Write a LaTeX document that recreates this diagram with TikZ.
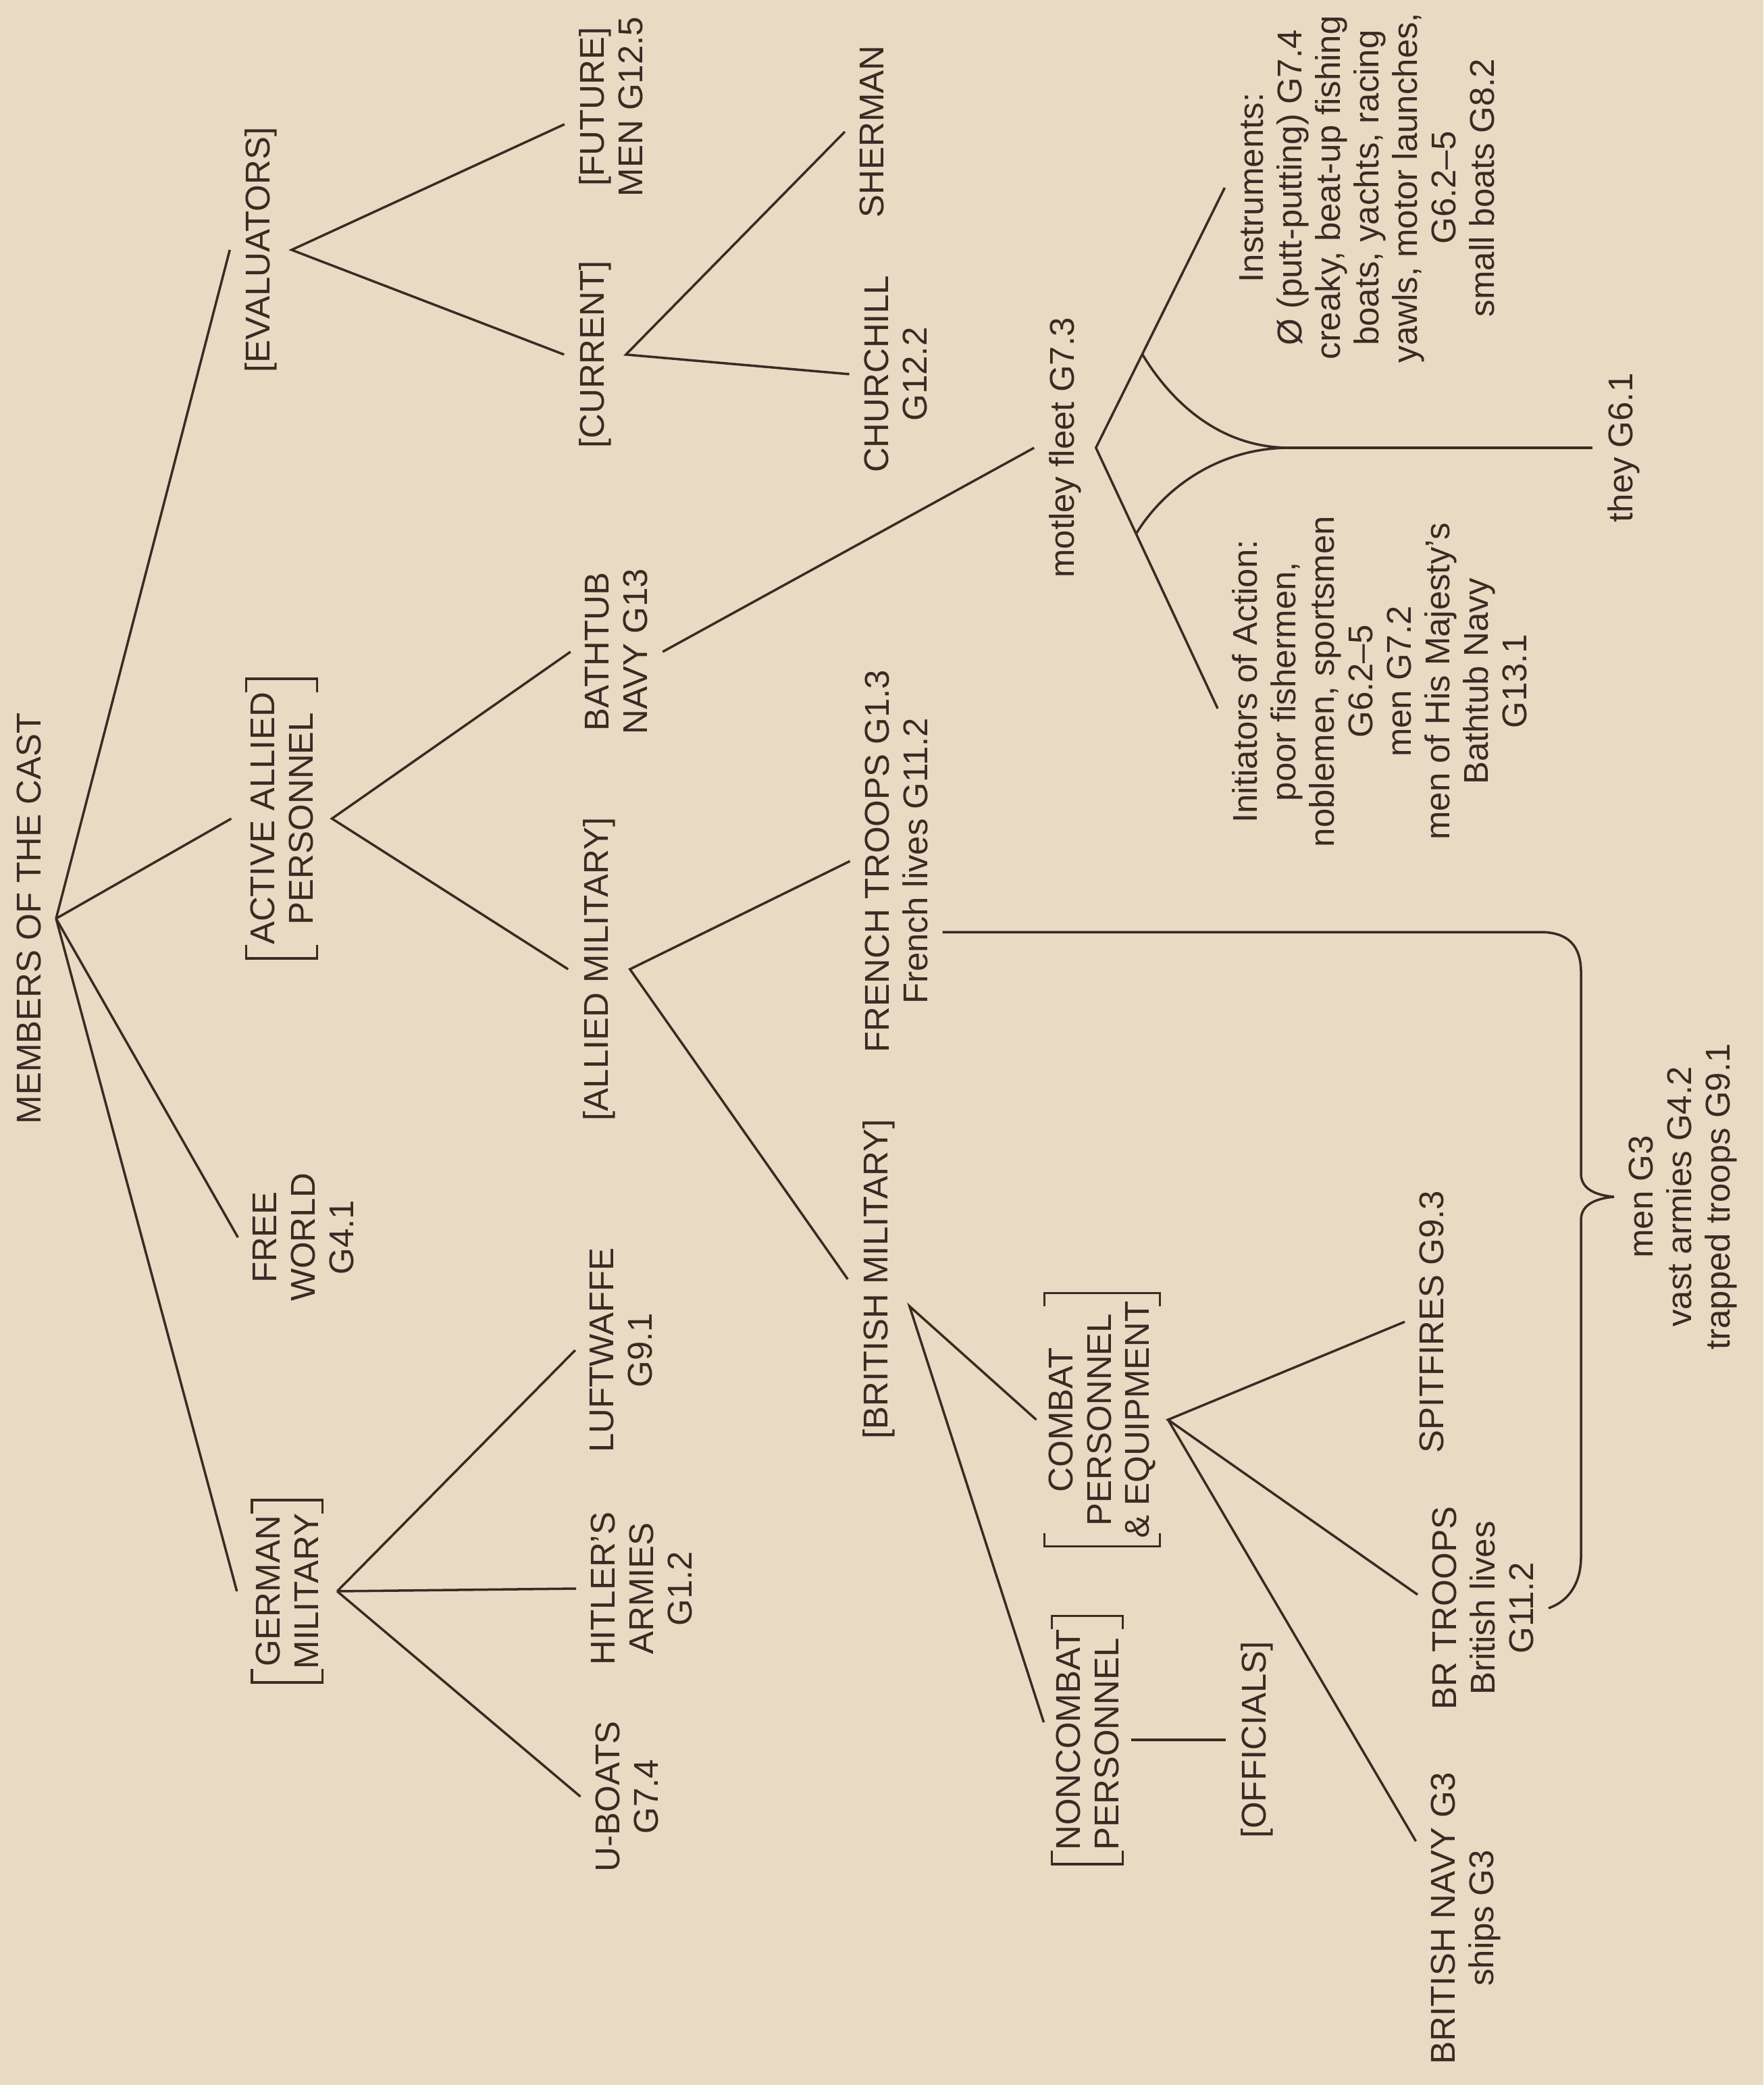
\documentclass[tikz,border=0pt]{standalone}
\usepackage{fontspec}
\setmainfont{Liberation Sans}
\usetikzlibrary{calc}
\definecolor{paper}{HTML}{E7DBC4}
\definecolor{ink}{HTML}{3D2923}
\tikzset{
  lbl/.style={rotate=90, align=center, inner sep=0pt, outer sep=2.2mm, text=ink,
    font=\fontsize{14.5}{16.2}\selectfont},
  brk/.style={lbl, inner xsep=2mm, inner ysep=0.6mm},
  tree/.style={draw=ink, line width=1pt},
}
% square brackets round a turned node (#2 = its outer sep)
\newcommand\bracketize[2]{%
  \draw[tree] ([shift={(#2,#2+2mm)}]#1.north west) -- ([shift={(#2,#2)}]#1.north west)
    -- ([shift={(-#2,#2)}]#1.south west) -- ([shift={(-#2,#2+2mm)}]#1.south west) ;
  \draw[tree] ([shift={(#2,-#2-2mm)}]#1.north east) -- ([shift={(#2,-#2)}]#1.north east)
    -- ([shift={(-#2,-#2)}]#1.south east) -- ([shift={(-#2,-#2-2mm)}]#1.south east) ;
}

\begin{document}
\begin{tikzpicture}
  \useasboundingbox (0,0) rectangle (26.11,-30.87) ;
  \fill[paper] (0,0) rectangle (26.11,-30.87) ;
  % root and first level
  \node[lbl] (root) at (0.43,-13.60) {MEMBERS OF THE CAST} ;
  \node[lbl] (eval) at (3.86,-3.70) {[EVALUATORS]} ;
  \node[brk] (act) at (4.17,-12.12) {ACTIVE ALLIED\\PERSONNEL} ;
  \node[lbl] (free) at (4.49,-18.32) {FREE\\WORLD\\G4.1} ;
  \node[brk] (ger) at (4.25,-23.56) {GERMAN\\MILITARY} ;
  % second level
  \node[lbl] (fut) at (9.05,-1.58) {[FUTURE]\\MEN G12.5} ;
  \node[lbl] (cur) at (8.81,-5.25) {[CURRENT]} ;
  \node[lbl] (bath) at (9.13,-9.65) {BATHTUB\\NAVY G13} ;
  \node[lbl] (alm) at (8.87,-14.35) {[ALLIED MILITARY]} ;
  \node[lbl] (luf) at (9.20,-19.99) {LUFTWAFFE\\G9.1} ;
  \node[lbl] (hit) at (9.50,-23.52) {HITLER'S\\ARMIES\\G1.2} ;
  \node[lbl] (ub) at (9.28,-26.60) {U-BOATS\\G7.4} ;
  % third level
  \node[lbl] (sher) at (12.91,-1.95) {SHERMAN} ;
  \node[lbl] (chur) at (13.26,-5.54) {CHURCHILL\\G12.2} ;
  \node[lbl] (fr) at (13.27,-12.75) {FRENCH TROOPS G1.3\\French lives G11.2} ;
  \node[lbl] (brm) at (13.01,-18.94) {[BRITISH MILITARY]} ;
  \node[lbl] (mot) at (15.77,-6.63) {motley fleet G7.3} ;
  \node[brk,outer sep=1.2mm,inner xsep=1.2mm] (com) at (16.32,-21.02) {COMBAT\\PERSONNEL\\\& EQUIPMENT} ;
  \node[brk,outer sep=1.2mm,align=left] (nonc) at (16.10,-25.76) {NONCOMBAT\\PERSONNEL} ;
  \node[lbl] (off) at (18.61,-25.76) {[OFFICIALS]} ;
  % leaves
  \node[lbl] (instr) at (20.24,-2.78) {Instruments:\\Ø (putt-putting) G7.4\\creaky, beat-up fishing\\boats, yachts, racing\\yawls, motor launches,\\G6.2–5\\small boats G8.2} ;
  \node[lbl] (init) at (20.43,-10.09) {Initiators of Action:\\poor fishermen,\\noblemen, sportsmen\\G6.2–5\\men G7.2\\men of His Majesty's\\Bathtub Navy\\G13.1} ;
  \node[lbl] (spit) at (21.20,-19.57) {SPITFIRES G9.3} ;
  \node[lbl] (bt) at (21.96,-23.81) {BR TROOPS\\British lives\\G11.2} ;
  \node[lbl] (nav) at (21.70,-28.40) {BRITISH NAVY G3\\ships G3} ;
  \node[lbl] (they) at (24.04,-6.63) {they G6.1} ;
  \node[lbl] (men) at (24.92,-17.72) {men G3\\vast armies G4.2\\trapped troops G9.1} ;
  \bracketize{act}{2.2mm}
  \bracketize{ger}{2.2mm}
  \bracketize{com}{1.2mm}
  \bracketize{nonc}{1.2mm}
  % branches
  \foreach \c in {eval,act,free,ger} \draw[tree] (root.south) -- (\c.north) ;
  \draw[tree] ([yshift=-2.6mm]fut.north) -- (eval.south) -- (cur.north) ;
  \draw[tree] (sher.north) -- (cur.south) -- (chur.north) ;
  \draw[tree] (bath.north) -- (act.south) -- (alm.north) ;
  \draw[tree] (bath.south) -- (mot.north) ;
  \draw[tree] (fr.north) -- (alm.south) -- (brm.north) ;
  \foreach \c in {luf,hit,ub} \draw[tree] (ger.south) -- (\c.north) ;
  \coordinate (brv) at ([yshift=-4mm]brm.south) ;
  \draw[tree] (com.north) -- (brv) -- ([yshift=2.6mm]nonc.north) ;
  \draw[tree] (nonc.south) -- (off.north) ;
  \draw[tree] (spit.north) -- (com.south) -- ([yshift=2mm]bt.north) ;
  \draw[tree] (com.south) -- ([yshift=11.4mm]nav.north) ;
  % fork of the motley fleet
  \coordinate (initin) at ([yshift=-4mm]init.north) ;
  \draw[tree] (instr.north) -- (mot.south) -- (initin) ;
  \coordinate (upf) at ($(mot.south)!0.36!(instr.north)$) ;
  \coordinate (lof) at ($(mot.south)!0.33!(initin)$) ;
  \coordinate (merge) at (19.10,-6.63) ;
  \draw[tree] (upf) .. controls +(0.38,-0.63) and +(-1.1,0) .. (merge) ;
  \draw[tree] (lof) .. controls +(0.38,0.63) and +(-1.1,0) .. (merge) ;
  \draw[tree] (merge) -- (they.north) ;
  % brace
  \draw[tree] ([yshift=-10.5mm]fr.south) -- (22.80,-13.80)
    .. controls (23.22,-13.80) and (23.41,-14.00) .. (23.41,-14.40) -- (23.41,-17.38)
    .. controls (23.41,-17.62) and (23.66,-17.70) .. (men.north)
    .. controls (23.66,-17.74) and (23.41,-17.82) .. (23.41,-18.06) -- (23.41,-23.05)
    .. controls (23.41,-23.45) and (23.22,-23.71) .. (bt.south) ;
\end{tikzpicture}
\end{document}
